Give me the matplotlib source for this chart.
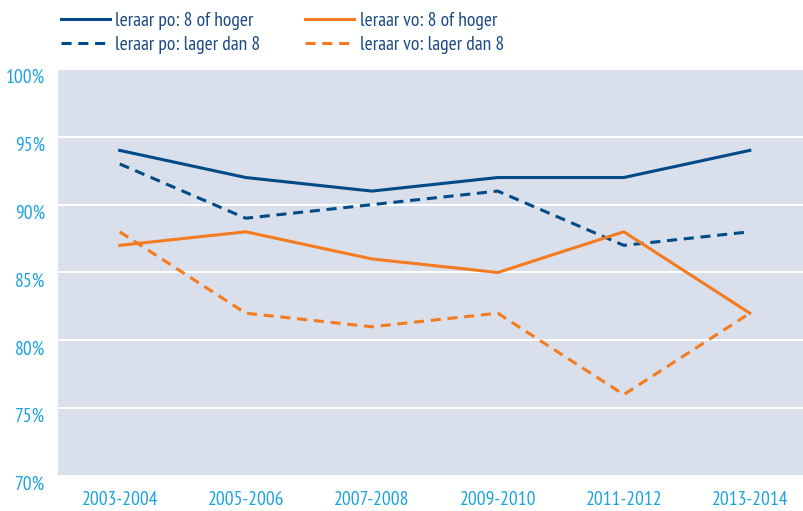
import matplotlib
matplotlib.use("Agg")
import matplotlib.pyplot as plt
from matplotlib.lines import Line2D
from matplotlib.transforms import ScaledTranslation

years = ["2003-2004", "2005-2006", "2007-2008", "2009-2010", "2011-2012", "2013-2014"]
po_hoog = [94, 92, 91, 92, 92, 94]
po_laag = [93, 89, 90, 91, 87, 88]
vo_hoog = [87, 88, 86, 85, 88, 82]
vo_laag = [88, 82, 81, 82, 76, 82]
yticks = [70, 75, 80, 85, 90, 95, 100]

navy = "#004a87"
orange = "#f47b20"
tickcol = "#1aa3e0"
dash = (0, (3.3, 2.2))
plt.rcParams['font.family'] = ['PT Sans Narrow', 'DejaVu Sans']

fig = plt.figure(figsize=(8.04, 5.11), dpi=100)
ax = fig.add_axes([0.0721, 0.0685, 0.9279, 0.7965])
ax.set_facecolor("#d9dfeb")

x = list(range(len(years)))
ax.plot(x, po_hoog, color=navy, lw=2.2)
ax.plot(x, po_laag, color=navy, lw=2.2, ls=dash)
ax.plot(x, vo_hoog, color=orange, lw=2.2)
ax.plot(x, vo_laag, color=orange, lw=2.2, ls=dash)

ax.set_ylim(70, 100)
ax.set_xlim(-0.49, 5.43)
ax.set_yticks(yticks)
ax.set_yticklabels([str(v) + "%" for v in yticks])
ax.set_xticks(x)
ax.set_xticklabels(years)
ax.grid(axis="y", color="white", lw=1.5)
ax.set_axisbelow(True)
for s in ax.spines.values():
    s.set_visible(False)
ax.tick_params(length=0, colors=tickcol, labelsize=14)
ax.tick_params(axis="y", pad=9.5)
ax.tick_params(axis="x", pad=11)
# y labels sit a bit below their gridlines in the original
shift = ScaledTranslation(0, -7 / 100, fig.dpi_scale_trans)
for lab in ax.get_yticklabels():
    lab.set_transform(lab.get_transform() + shift)

handles = [
    Line2D([], [], color=navy, lw=2.2),
    Line2D([], [], color=navy, lw=2.2, ls=dash),
    Line2D([], [], color=orange, lw=2.2),
    Line2D([], [], color=orange, lw=2.2, ls=dash),
]
labels = ["leraar po: 8 of hoger", "leraar po: lager dan 8",
          "leraar vo: 8 of hoger", "leraar vo: lager dan 8"]
leg = fig.legend(handles, labels, ncol=2, loc="upper left",
                 bbox_to_anchor=(61 / 804, 1 - 12 / 511), frameon=False,
                 borderpad=0, borderaxespad=0,
                 fontsize=14, handlelength=2.5, columnspacing=2.3,
                 labelspacing=0.3, handletextpad=0.3)
for t in leg.get_texts():
    t.set_color("#1b4a86")

fig.savefig("out.png", dpi=100)
